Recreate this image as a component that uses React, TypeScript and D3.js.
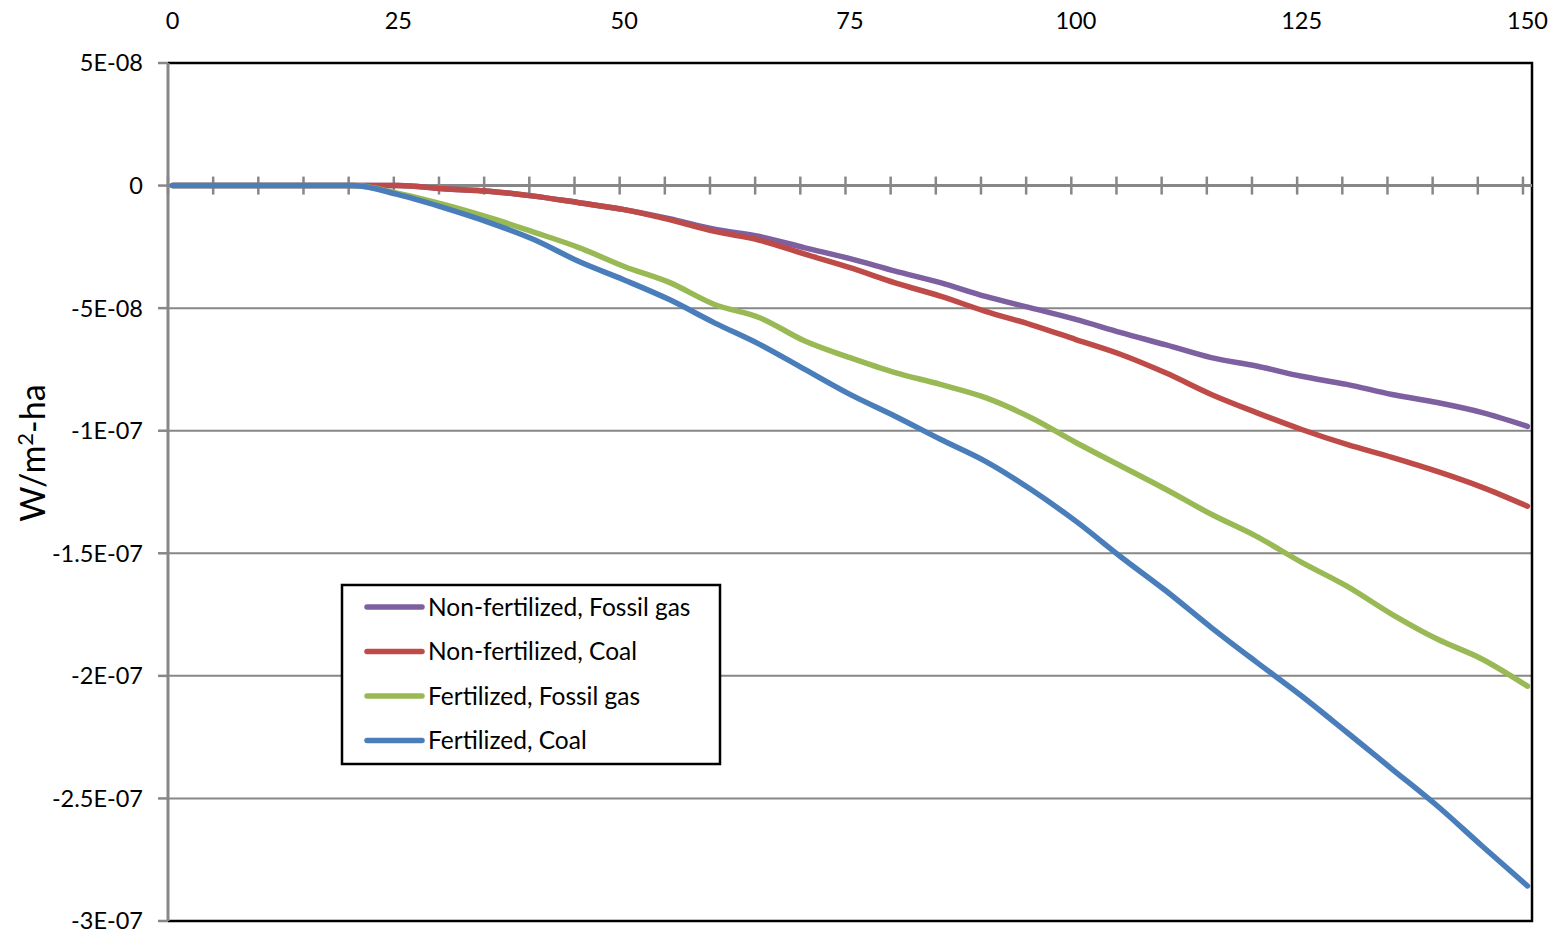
import React from 'react';
import * as d3 from 'd3';

// Years (category axis 0..150), values read every 5 years, in units of 1E-09 W/m²-ha
const years = [0, 5, 10, 15, 20, 25, 30, 35, 40, 45, 50, 55, 60, 65, 70, 75, 80, 85, 90, 95, 100, 105, 110, 115, 120, 125, 130, 135, 140, 145, 150];
const nonFertGas = [0, 0, 0, 0, 0, 0, -1.3, -2.3, -4.3, -7, -9.8, -13.5, -17.8, -20.8, -25.4, -29.8, -34.9, -39.6, -45.2, -49.9, -54.6, -60, -65, -70.2, -73.6, -77.8, -81.1, -85.2, -88.5, -92.6, -98.2];
const nonFertCoal = [0, 0, 0, 0, 0, 0, -1.3, -2.3, -4.3, -7, -9.8, -13.9, -18.7, -22.3, -28, -33.5, -39.7, -45.1, -51.3, -56.7, -62.8, -68.9, -76.5, -85.2, -92.6, -99.5, -105.6, -110.9, -116.6, -123.1, -130.8];
const fertGas = [0, 0, 0, 0, 0, -3.2, -7.7, -13, -19, -25.3, -33, -39.5, -48.5, -53.9, -63.4, -70.2, -76.3, -81.1, -86.5, -94.6, -104.8, -114.4, -124, -134.1, -143.1, -153.7, -163.4, -174.9, -185, -193.2, -204.2];
const fertCoal = [0, 0, 0, 0, 0, -3.7, -9, -15, -22, -31, -38.5, -46.5, -56, -64.8, -75, -85.2, -94.1, -103.5, -112.5, -123.9, -136.9, -151.5, -165.4, -180.3, -194.4, -208.2, -223, -238, -253, -269.5, -285.7];

const seriesNames = ['Non-fertilized, Fossil gas', 'Non-fertilized, Coal', 'Fertilized, Fossil gas', 'Fertilized, Coal'];
const seriesColors = ['#7D60A0', '#BE4B48', '#98B954', '#4A7EBB'];

const xTickLabels = [0, 25, 50, 75, 100, 125, 150];
const yTickValues = [50, 0, -50, -100, -150, -200, -250, -300];
const yTickLabels = ['5E-08', '0', '-5E-08', '-1E-07', '-1.5E-07', '-2E-07', '-2.5E-07', '-3E-07'];

const W = 1562;
const H = 935;
const L = 168, R = 1532, T = 63, B = 921;
const FONT = 'Lato, "Open Sans", sans-serif';
const AXIS_GRAY = '#878787';

export default function App() {
  const x = d3.scaleLinear().domain([-0.5, 150.5]).range([L, R]);
  const y = d3.scaleLinear().domain([50, -300]).range([T, B]);
  const allSeries = [nonFertGas, nonFertCoal, fertGas, fertCoal];
  const line = d3
    .line<number>()
    .x((_, i) => x(years[i]))
    .y((d) => y(d))
    .curve(d3.curveMonotoneX);

  const minorTicks = d3.range(0, 31).map((k) => k * 5 - 0.5);

  const legendX = 342, legendY = 585, legendW = 378, legendH = 179;
  const legendRowY = [607, 651.5, 696, 740.5];

  return (
    <svg width={W} height={H} style={{ position: 'absolute', left: 0, top: 0, background: '#fff' }} fontFamily={FONT}>
      <rect x={0} y={0} width={W} height={H} fill="#fff" />
      {/* gridlines */}
      {yTickValues.filter((v) => v < 0 && v > -300).map((v) => (
        <line key={'g' + v} x1={L} x2={R} y1={y(v)} y2={y(v)} stroke={AXIS_GRAY} strokeWidth={2} />
      ))}
      {/* plot border: top, right, bottom */}
      <path d={`M${L},${T}H${R}V${B}H${L}`} fill="none" stroke="#000" strokeWidth={2.5} />
      {/* y axis */}
      <line x1={L} x2={L} y1={T} y2={B} stroke={AXIS_GRAY} strokeWidth={3} />
      {yTickValues.map((v, i) => (
        <g key={'yt' + v}>
          <line x1={L - 10} x2={L} y1={y(v)} y2={y(v)} stroke={AXIS_GRAY} strokeWidth={2.5} />
          <text x={143} y={y(v)} dy="0.36em" textAnchor="end" fontSize={23.5} fill="#000">
            {yTickLabels[i]}
          </text>
        </g>
      ))}
      {/* x axis at zero */}
      <line x1={L} x2={R} y1={y(0)} y2={y(0)} stroke={AXIS_GRAY} strokeWidth={3} />
      {minorTicks.map((t) => (
        <line key={'xt' + t} x1={x(t)} x2={x(t)} y1={y(0) - 9} y2={y(0) + 9} stroke={AXIS_GRAY} strokeWidth={2.5} />
      ))}
      {xTickLabels.map((t) => (
        <text key={'xl' + t} x={x(t)} y={29} textAnchor="middle" fontSize={23.5} fill="#000">
          {t}
        </text>
      ))}
      {/* series */}
      {allSeries.map((s, i) => (
        <path key={'s' + i} d={line(s) || ''} fill="none" stroke={seriesColors[i]} strokeWidth={5.5} strokeLinejoin="round" strokeLinecap="round" />
      ))}
      {/* y title */}
      <text transform={`translate(45,453) rotate(-90)`} textAnchor="middle" fontSize={34} fill="#000">
        W/m<tspan dy={-12} fontSize={22}>2</tspan><tspan dy={12}>-ha</tspan>
      </text>
      {/* legend */}
      <rect x={legendX} y={legendY} width={legendW} height={legendH} fill="#fff" stroke="#000" strokeWidth={2.5} />
      {seriesNames.map((n, i) => (
        <g key={'lg' + i}>
          <line x1={367} x2={422} y1={legendRowY[i]} y2={legendRowY[i]} stroke={seriesColors[i]} strokeWidth={5.5} strokeLinecap="round" />
          <text x={428} y={legendRowY[i]} dy="0.36em" fontSize={24.5} fill="#000">
            {n}
          </text>
        </g>
      ))}
    </svg>
  );
}
